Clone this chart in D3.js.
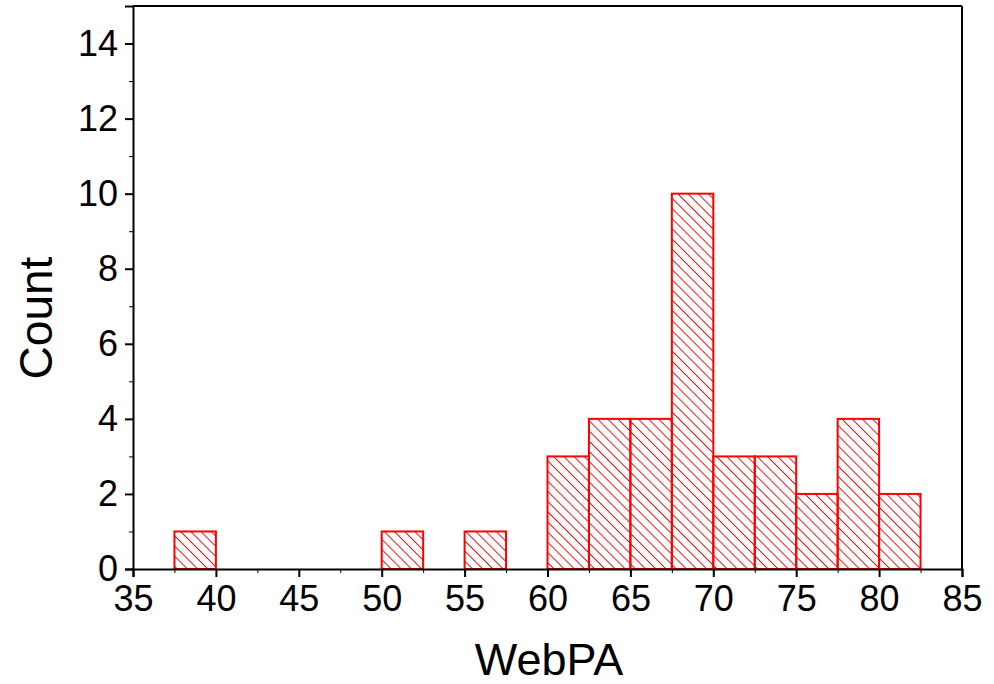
<!DOCTYPE html>
<html>
<head>
<meta charset="utf-8">
<script src="https://cdn.jsdelivr.net/npm/d3@7"></script>
<style>
  body { margin: 0; background: #fff; }
  svg { font-family: "Liberation Sans", Arial, sans-serif; }
</style>
</head>
<body>
<svg id="chart" width="994" height="684"></svg>
<script>
// histogram bins (left edge) and counts
var binStarts = [37.5, 50, 55, 60, 62.5, 65, 67.5, 70, 72.5, 75, 77.5, 80];
var binWidth = 2.5;
var counts = [1, 1, 1, 3, 4, 4, 10, 3, 3, 2, 4, 2];
var xTicks = [35, 40, 45, 50, 55, 60, 65, 70, 75, 80, 85];
var yTicks = [0, 2, 4, 6, 8, 10, 12, 14];

var margin = {left: 133, right: 32, top: 6, bottom: 115};
var width = 994 - margin.left - margin.right;
var height = 684 - margin.top - margin.bottom;

var svg = d3.select('#chart');

// hatch pattern
var defs = svg.append('defs');
defs.append('pattern')
    .attr('id', 'hatch')
    .attr('patternUnits', 'userSpaceOnUse')
    .attr('width', 7.2)
    .attr('height', 10)
    .attr('patternTransform', 'rotate(-45)')
    .append('line')
    .attr('x1', 0).attr('y1', -1)
    .attr('x2', 0).attr('y2', 11)
    .attr('stroke', '#ff0000')
    .attr('stroke-width', 1.4)
    .attr('shape-rendering', 'crispEdges');

var g = svg.append('g')
    .attr('transform', 'translate(' + margin.left + ',' + margin.top + ')');

var x = d3.scaleLinear().domain([35, 85]).range([0, width]);
var y = d3.scaleLinear().domain([0, 15]).range([height, 0]);

var data = binStarts.map(function (s, i) {
    return {x0: s, x1: s + binWidth, n: counts[i]};
});

g.selectAll('rect.bar')
    .data(data)
    .enter()
    .append('rect')
    .attr('class', 'bar')
    .attr('x', function (d) { return x(d.x0); })
    .attr('y', function (d) { return y(d.n); })
    .attr('width', function (d) { return x(d.x1) - x(d.x0); })
    .attr('height', function (d) { return y(0) - y(d.n); })
    .attr('fill', 'url(#hatch)')
    .attr('stroke', '#ff0000')
    .attr('stroke-width', 2);

// minor ticks
var xMinor = d3.range(37.5, 85, 5);
var yMinor = d3.range(1, 15, 2);

var xAxis = d3.axisBottom(x).tickValues(xTicks).tickSize(8).tickPadding(8);
var yAxis = d3.axisLeft(y).tickValues(yTicks).tickSize(8).tickPadding(7);

g.append('g')
    .attr('transform', 'translate(0,' + height + ')')
    .call(d3.axisBottom(x).tickValues(xMinor).tickSize(4).tickFormat(''))
    .call(function (a) { a.select('.domain').remove(); });
g.append('g')
    .call(d3.axisLeft(y).tickValues(yMinor).tickSize(4).tickFormat(''))
    .call(function (a) { a.select('.domain').remove(); });

var xg = g.append('g')
    .attr('transform', 'translate(0,' + height + ')')
    .call(xAxis);
var yg = g.append('g').call(yAxis);

[xg, yg].forEach(function (a) {
    a.selectAll('text').attr('font-size', 36).attr('fill', '#000')
        .attr('font-family', '"Liberation Sans", Arial, sans-serif');
    a.selectAll('line').attr('stroke-width', 2);
    a.select('.domain').attr('stroke-width', 2);
});

// top and right frame
g.append('line')
    .attr('x1', 0).attr('x2', width).attr('y1', 0).attr('y2', 0)
    .attr('stroke', '#000').attr('stroke-width', 2);
g.append('line')
    .attr('x1', width).attr('x2', width).attr('y1', 0).attr('y2', height)
    .attr('stroke', '#000').attr('stroke-width', 2);

// axis titles
svg.append('text')
    .attr('x', 549)
    .attr('y', 675)
    .attr('text-anchor', 'middle')
    .attr('font-size', 45)
    .text('WebPA');

svg.append('text')
    .attr('transform', 'translate(52,318) rotate(-90)')
    .attr('text-anchor', 'middle')
    .attr('font-size', 46)
    .text('Count');
</script>
</body>
</html>
